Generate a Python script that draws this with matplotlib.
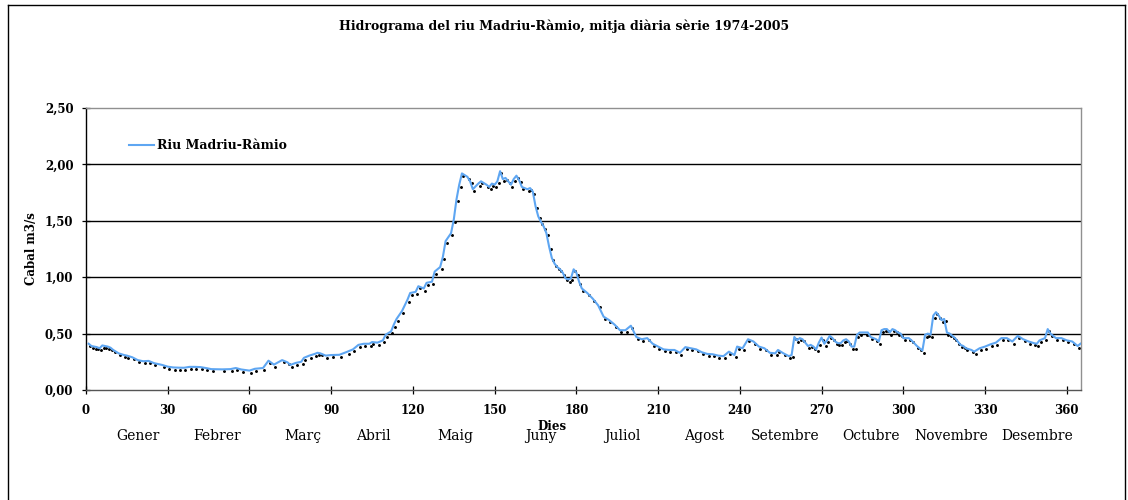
import matplotlib
matplotlib.use("Agg")
import matplotlib.pyplot as plt
import matplotlib.transforms as mtransforms
from matplotlib.lines import Line2D
from matplotlib.ticker import FuncFormatter

# dies llegits del grafic i cabal mitja (m3/s)
dies = [1, 2, 3, 4, 5, 6, 7, 8, 9, 10, 12, 14, 15, 17, 19, 21, 23, 25, 28, 30,
        32, 34, 36, 38, 40, 42, 44, 46, 50, 53, 55, 57, 60, 62, 65, 67, 69, 72, 74, 75,
        77, 79, 80, 82, 84, 85, 86, 88, 90, 93, 96, 98, 100, 102, 104, 105, 107, 109, 110, 112,
        113, 114, 116, 118, 119, 121, 122, 124, 125, 127, 128, 130, 131, 132, 134, 135, 136, 137, 138, 140,
        141, 142, 144, 145, 147, 148, 149, 150, 151, 152, 153, 154, 155, 156, 157, 158, 159, 160, 162, 163,
        164, 165, 166, 167, 168, 169, 170, 171, 172, 173, 174, 175, 176, 177, 178, 179, 180, 181, 182, 184,
        186, 188, 190, 192, 194, 196, 198, 200, 202, 204, 206, 208, 210, 212, 214, 216, 218, 220, 222, 224,
        226, 228, 230, 232, 234, 236, 238, 239, 241, 243, 245, 247, 249, 251, 253, 254, 256, 258, 259, 260,
        261, 262, 263, 265, 266, 267, 268, 269, 270, 271, 272, 273, 274, 275, 276, 277, 278, 279, 280, 281,
        282, 283, 284, 286, 287, 288, 290, 291, 292, 293, 294, 295, 296, 297, 298, 299, 300, 302, 303, 305,
        306, 307, 308, 309, 310, 311, 312, 313, 314, 315, 316, 317, 318, 319, 320, 321, 322, 323, 325, 326,
        328, 330, 332, 334, 336, 338, 340, 342, 344, 346, 348, 349, 350, 352, 353, 354, 356, 358, 360, 362,
        364, 365]
cabal = [0.41, 0.39, 0.385, 0.38, 0.37, 0.395, 0.39, 0.385, 0.375, 0.355, 0.325, 0.31, 0.305, 0.29, 0.265, 0.255, 0.258, 0.238, 0.222, 0.207,
         0.20, 0.198, 0.197, 0.205, 0.205, 0.203, 0.195, 0.185, 0.183, 0.185, 0.195, 0.182, 0.172, 0.188, 0.195, 0.26, 0.225, 0.265, 0.245, 0.222,
         0.24, 0.25, 0.285, 0.305, 0.32, 0.33, 0.325, 0.305, 0.31, 0.312, 0.34, 0.36, 0.40, 0.41, 0.41, 0.425, 0.42, 0.44, 0.49, 0.52,
         0.58, 0.63, 0.70, 0.80, 0.86, 0.87, 0.92, 0.90, 0.95, 0.96, 1.05, 1.09, 1.18, 1.32, 1.39, 1.51, 1.69, 1.82, 1.92, 1.89,
         1.85, 1.78, 1.83, 1.85, 1.82, 1.80, 1.83, 1.82, 1.85, 1.94, 1.87, 1.88, 1.85, 1.82, 1.87, 1.90, 1.86, 1.80, 1.78, 1.79,
         1.76, 1.63, 1.54, 1.49, 1.45, 1.39, 1.27, 1.17, 1.12, 1.09, 1.07, 1.04, 0.99, 0.98, 0.99, 1.07, 1.04, 0.96, 0.90, 0.86,
         0.81, 0.75, 0.65, 0.62, 0.58, 0.53, 0.53, 0.57, 0.47, 0.45, 0.46, 0.41, 0.385, 0.36, 0.355, 0.355, 0.33, 0.38, 0.37, 0.36,
         0.335, 0.32, 0.317, 0.305, 0.30, 0.34, 0.31, 0.385, 0.37, 0.45, 0.43, 0.385, 0.37, 0.33, 0.325, 0.355, 0.325, 0.30, 0.31, 0.47,
         0.44, 0.46, 0.45, 0.39, 0.40, 0.385, 0.36, 0.42, 0.465, 0.41, 0.44, 0.48, 0.46, 0.43, 0.415, 0.415, 0.44, 0.45, 0.43, 0.385,
         0.385, 0.49, 0.51, 0.51, 0.51, 0.47, 0.45, 0.43, 0.53, 0.54, 0.54, 0.51, 0.54, 0.53, 0.51, 0.50, 0.46, 0.46, 0.44, 0.39,
         0.37, 0.35, 0.49, 0.50, 0.49, 0.66, 0.69, 0.66, 0.62, 0.63, 0.51, 0.50, 0.48, 0.46, 0.43, 0.40, 0.39, 0.37, 0.355, 0.34,
         0.37, 0.385, 0.405, 0.42, 0.46, 0.46, 0.43, 0.48, 0.45, 0.43, 0.415, 0.41, 0.44, 0.46, 0.54, 0.50, 0.46, 0.46, 0.44, 0.43,
         0.39, 0.41]

mesos = ["Gener", "Febrer", "Març", "Abril", "Maig", "Juny", "Juliol", "Agost",
         "Setembre", "Octubre", "Novembre", "Desembre"]
mesos_x = [19, 48, 79.5, 105.5, 135.5, 167, 197, 227, 256.5, 288, 317.5, 349]

serif = "DejaVu Serif"

fig = plt.figure(figsize=(11.28, 5), dpi=100)
ax = fig.add_axes([0.0762, 0.22, 0.8821, 0.564])

# punts negres lleugerament desplacats (ombra dels marcadors)
shadow = mtransforms.offset_copy(ax.transData, fig=fig, x=1.0, y=-1.5, units="points")
ax.plot(dies, cabal, linestyle="none", marker="o", markersize=1.1, color="black",
        transform=shadow, zorder=2)
ax.plot(dies, cabal, color="#5ea6f2", lw=1.5, label="Riu Madriu-Ràmio", zorder=3)

ax.set_xlim(0, 365.2)
ax.set_ylim(0, 2.5)
ax.set_xticks(range(0, 361, 30))
ax.set_yticks([0, 0.5, 1.0, 1.5, 2.0, 2.5])
ax.yaxis.set_major_formatter(FuncFormatter(lambda v, p: f"{v:.2f}".replace(".", ",")))
for yv in [0.5, 1.0, 1.5, 2.0]:
    ax.axhline(yv, color="black", lw=1.0, zorder=1)

ax.tick_params(direction="inout", length=6, width=0.9, labelsize=8.5)
ax.tick_params(axis="x", pad=7)
ax.tick_params(axis="y", pad=6)
for lab in ax.get_xticklabels() + ax.get_yticklabels():
    lab.set_fontfamily(serif)
    lab.set_fontweight("bold")

ax.spines["left"].set_color("black")
ax.spines["bottom"].set_color("#555555")
ax.spines["top"].set_color("#909090")
ax.spines["right"].set_color("#909090")
for s in ax.spines.values():
    s.set_linewidth(1.0)

ax.set_ylabel("Cabal m3/s", fontfamily=serif, fontweight="bold", fontsize=8.5, labelpad=5)

lab_tr = mtransforms.blended_transform_factory(ax.transData, ax.transAxes)
ax.text(171, -0.128, "Dies", transform=lab_tr, ha="center", va="center",
        fontfamily=serif, fontweight="bold", fontsize=8.5)
for nom, xm in zip(mesos, mesos_x):
    ax.text(xm, -0.163, nom, transform=lab_tr, ha="center", va="center",
            fontfamily=serif, fontsize=10)

leg = ax.legend(loc="upper left", bbox_to_anchor=(0.032, 0.93), frameon=False,
                handlelength=2.0, handletextpad=0.2,
                prop={"family": serif, "weight": "bold", "size": 9})

fig.text(0.5, 0.948, "Hidrograma del riu Madriu-Ràmio, mitja diària sèrie 1974-2005",
         ha="center", va="center", fontfamily=serif, fontweight="bold", fontsize=9)

# marc exterior
for xs, ys in [([0.007, 0.007], [0, 0.99]), ([0.007, 0.9973], [0.99, 0.99]),
               ([0.9973, 0.9973], [0, 0.99])]:
    fig.add_artist(Line2D(xs, ys, transform=fig.transFigure, color="black", lw=1.0))

fig.savefig("out.png", dpi=100)
